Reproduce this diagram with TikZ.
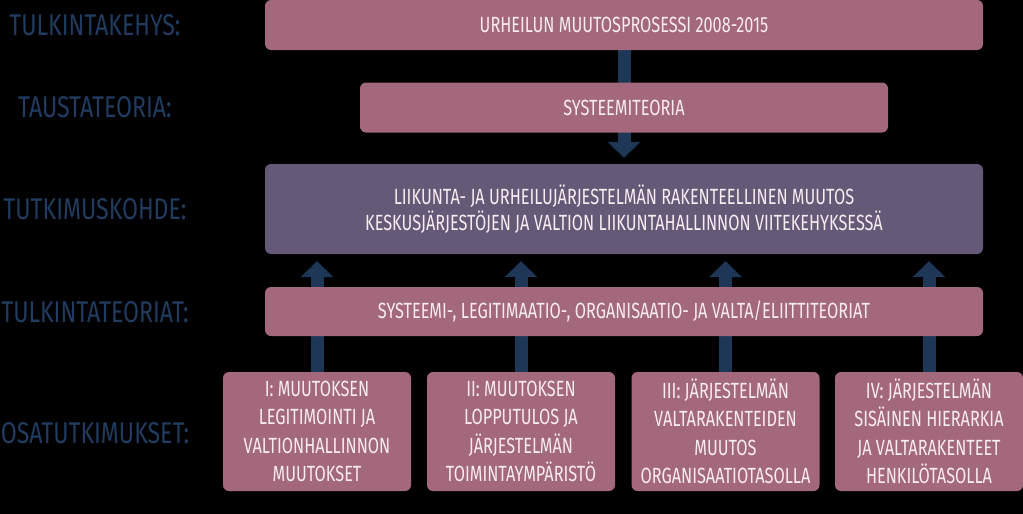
\documentclass[tikz,border=0pt]{standalone}
\usepackage{fontspec}
\setmainfont[FakeStretch=0.74]{Fira Sans}
\newfontfamily\labelfont[FakeStretch=0.77]{Fira Sans}
\usetikzlibrary{arrows.meta,backgrounds}
\definecolor{mauve}{HTML}{A4687C}
\definecolor{haze}{HTML}{645A78}
\definecolor{arrowblue}{HTML}{1E3756}
\definecolor{labelblue}{HTML}{203C60}
\definecolor{boxtext}{HTML}{F8ECF0}

\begin{document}
\begin{tikzpicture}[x=1pt,y=-1pt,
    box/.style={fill=mauve, rounded corners=6pt, text=boxtext, align=center,
        inner sep=0pt, font=\fontsize{22}{26}\selectfont},
    study/.style={box, minimum width=188pt, minimum height=119pt,
        font=\fontsize{22}{28.5}\selectfont},
    rowlabel/.style={text=labelblue, font=\labelfont\fontsize{30}{30}\selectfont},
    uparrow/.style={arrowblue, line width=13pt, -{Triangle[width=32pt,length=16pt]}}]
    \useasboundingbox (0,0) rectangle (1023,514);
    % Row labels
    \node[rowlabel] (l1) at (95,25) {TULKINTAKEHYS:};
    \node[rowlabel] (l2) at (95,107) {TAUSTATEORIA:};
    \node[rowlabel] (l3) at (95,209) {TUTKIMUSKOHDE:};
    \node[rowlabel] (l4) at (95,312) {TULKINTATEORIAT:};
    \node[rowlabel] (l5) at (95,433) {OSATUTKIMUKSET:};
    % Frame and theory
    \node[box, minimum width=718pt, minimum height=50pt] (frame) at (624,25) {URHEILUN MUUTOSPROSESSI 2008-2015};
    \node[box, minimum width=528pt, minimum height=50pt] (theory) at (624,107.5) {SYSTEEMITEORIA};
    % Research object
    \node[box, fill=haze, minimum width=718pt, minimum height=90pt] (target) at (624,209)
        {LIIKUNTA- JA URHEILUJÄRJESTELMÄN RAKENTEELLINEN MUUTOS\\
         KESKUSJÄRJESTÖJEN JA VALTION LIIKUNTAHALLINNON VIITEKEHYKSESSÄ};
    \node[box, minimum width=718pt, minimum height=49pt] (interp) at (624,311.5)
        {SYSTEEMI-, LEGITIMAATIO-, ORGANISAATIO- JA VALTA/ELIITTITEORIAT};
    % Sub-studies
    \node[study] (s1) at (317,431.5) {I: MUUTOKSEN\\LEGITIMOINTI JA\\VALTIONHALLINNON\\MUUTOKSET};
    \node[study] (s2) at (521,431.5) {II: MUUTOKSEN\\LOPPUTULOS JA\\JÄRJESTELMÄN\\TOIMINTAYMPÄRISTÖ};
    \node[study] (s3) at (725.5,431.5) {III: JÄRJESTELMÄN\\VALTARAKENTEIDEN\\MUUTOS\\ORGANISAATIOTASOLLA};
    \node[study] (s4) at (929,431.5) {IV: JÄRJESTELMÄN\\SISÄINEN HIERARKIA\\JA VALTARAKENTEET\\HENKILÖTASOLLA};
    % Arrows behind the boxes
    \begin{scope}[on background layer]
        \fill[black] (0,0) rectangle (1023,514);
        \draw[uparrow, shorten >=6pt] (frame.south) -- (target.north);
        \foreach \s in {s1,s2,s3,s4}
            \draw[uparrow, shorten >=7pt] (\s.north) -- (\s.north |- target.south);
    \end{scope}
\end{tikzpicture}
\end{document}
